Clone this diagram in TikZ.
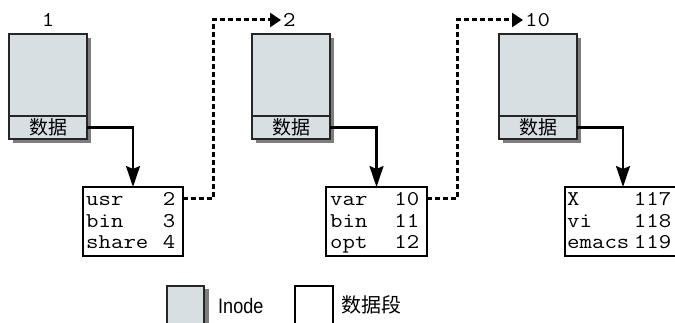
\documentclass[tikz,border=0pt]{standalone}
\usepackage{fontspec}
\newfontfamily\cjk{Noto Sans CJK SC}
\newfontfamily\narrowsans[FakeStretch=0.86]{Liberation Sans}
\newfontfamily\widemono[FakeStretch=1.15]{Latin Modern Mono}
\usetikzlibrary{arrows.meta,shadows}
\definecolor{inodefill}{RGB}{216,223,226}
\definecolor{shadowgray}{RGB}{125,125,125}
\newcommand{\dirlist}[2]{\begin{tabular*}{#1}[t]{@{}l@{\extracolsep{\fill}}r@{}}#2\end{tabular*}}
\begin{document}
\begin{tikzpicture}[x=1pt,y=-1pt,
  inodebody/.style={draw=black!85, line width=1.2pt, fill=inodefill,
    minimum width=78pt, minimum height=105pt, inner sep=0pt, outer sep=0pt,
    drop shadow={shadow xshift=4pt, shadow yshift=-4pt, fill=shadowgray, opacity=1}},
  datapart/.style={draw=black!85, line width=1.2pt, fill=inodefill,
    minimum width=78pt, minimum height=23pt, inner sep=0pt, outer sep=0pt,
    font=\cjk\fontsize{19pt}{19pt}\selectfont},
  dirbox/.style={draw=black, line width=1.2pt, fill=white, minimum height=69pt,
    inner sep=0pt, outer sep=0pt},
  mono/.style={font=\widemono\fontsize{21pt}{21.5pt}\selectfont, inner sep=0pt},
  solidarrow/.style={line width=2.2pt, -{Stealth[length=21pt,width=14pt,inset=3pt]}},
  dotarrow/.style={line width=3pt, dash pattern=on 5pt off 3pt,
    -{Triangle[length=11pt,width=14pt]}, shorten >=2pt},
  legendtext/.style={inner sep=0pt, anchor=west}
]
\clip (0,0) rectangle (675,323);
\fill[white] (0,0) rectangle (675,323);

% inodes
\node[inodebody] (i1) at (48,86.5) {};
\node[datapart, anchor=south] (d1) at (i1.south) {数据};
\node[inodebody] (i2) at (291,86.5) {};
\node[datapart, anchor=south] (d2) at (i2.south) {数据};
\node[inodebody] (i3) at (538,86.5) {};
\node[datapart, anchor=south] (d3) at (i3.south) {数据};

% labels
\node[mono] (l1) at (48,20) {1};
\node[mono, anchor=west] (l2) at (283,20) {2};
\node[mono, anchor=west] (l10) at (525,20) {10};

% directory boxes
\node[dirbox, minimum width=100pt] (b1) at (133,221.5) {};
\node[dirbox, minimum width=101pt] (b2) at (376.5,221.5) {};
\node[dirbox, minimum width=116pt] (b3) at (623,221.5) {};

\node[mono, anchor=base west] (t1) at ([xshift=3pt,yshift=-19pt]b1.north west)
  {\dirlist{89pt}{usr & 2\\ bin & 3\\ share & 4}};
\node[mono, anchor=base west] (t2) at ([xshift=4pt,yshift=-19pt]b2.north west)
  {\dirlist{89pt}{var & 10\\ bin & 11\\ opt & 12}};
\node[mono, anchor=base west] (t3) at ([xshift=2pt,yshift=-19pt]b3.north west)
  {\dirlist{104pt}{X & 117\\ vi & 118\\ emacs & 119}};

% connectors
\draw[solidarrow] (d1.east) -| (b1.north);
\draw[solidarrow] (d2.east) -| (b2.north);
\draw[solidarrow] (d3.east) -| (b3.north);
\draw[dotarrow] ([yshift=-12pt]b1.north east) -- ++(30,0) |- (l2.west);
\draw[dotarrow] ([yshift=-12pt]b2.north east) -- ++(30,0) |- (l10.west);

% legend
\node[draw=black!85, line width=1.2pt, fill=inodefill, minimum width=37pt,
  minimum height=44pt, inner sep=0pt,
  drop shadow={shadow xshift=5pt, shadow yshift=-3pt, fill=shadowgray, opacity=1}]
  (lg) at (185.5,308) {};
\node[legendtext, font=\narrowsans\fontsize{21pt}{21pt}\selectfont] (lgt) at (218,306) {Inode};
\node[draw=black, line width=1.2pt, fill=white, minimum width=38pt,
  minimum height=44pt, inner sep=0pt] (lw) at (314,308) {};
\node[legendtext, font=\cjk\fontsize{20pt}{20pt}\selectfont] (lwt) at (341,305) {数据段};
\end{tikzpicture}
\end{document}
